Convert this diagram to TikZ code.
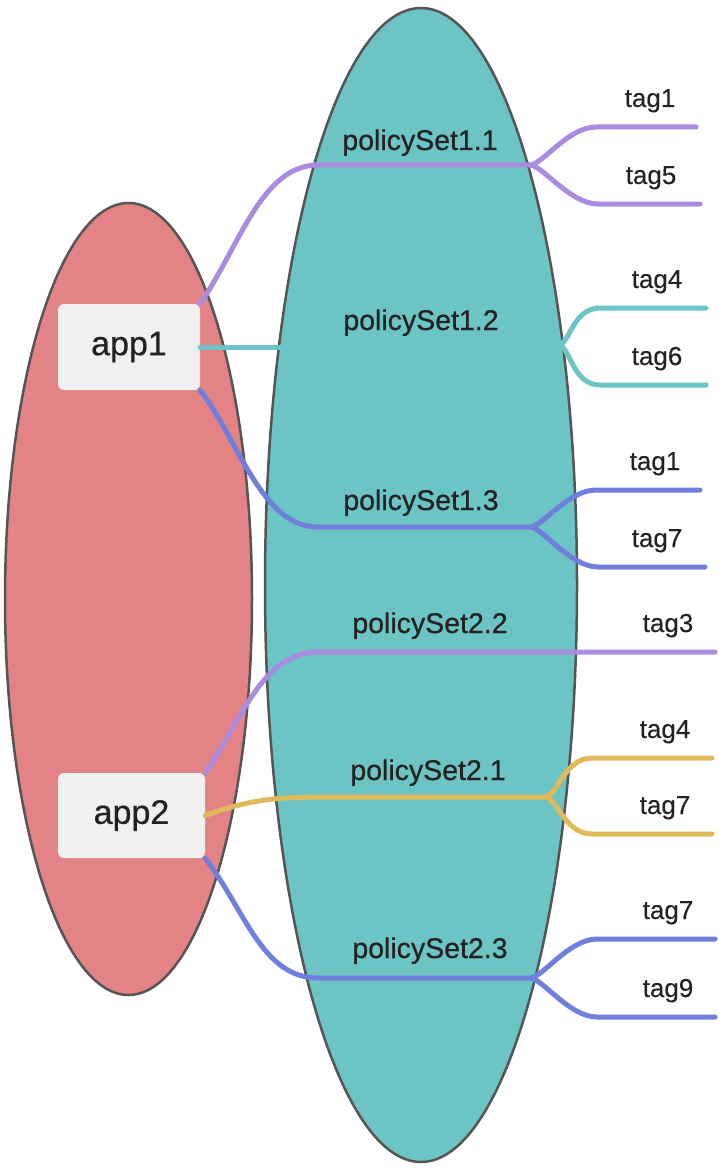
\documentclass[tikz,border=0pt]{standalone}
\usepackage{fontspec}
\setmainfont{Liberation Sans}
\definecolor{appred}{HTML}{E38385}
\definecolor{setteal}{HTML}{6CC4C4}
\definecolor{rimgray}{HTML}{555555}
\definecolor{boxgray}{HTML}{F0F0F0}
\definecolor{textdark}{HTML}{222222}
\definecolor{linkpurple}{HTML}{A98BE0}
\definecolor{linkteal}{HTML}{6CC4C4}
\definecolor{linkblue}{HTML}{6F7FDB}
\definecolor{linkyellow}{HTML}{E0B95A}
\tikzset{
	link/.style={line width=5pt, line cap=round},
	appbox/.style={fill=boxgray, rounded corners=6pt, minimum width=142pt, minimum height=86pt,
		font=\fontsize{34}{40}\selectfont\addfontfeature{FakeBold=0.6}, text=textdark},
	settext/.style={font=\fontsize{28.5}{34}\selectfont\addfontfeature{FakeBold=0.6}, text=textdark, anchor=base},
	tagtext/.style={font=\fontsize{26}{31}\selectfont\addfontfeature{FakeBold=0.3}, text=textdark, anchor=base}
}
\newcommand{\leaf}[6] % junction, leaf name, x start, x end, y, colour
{
	% leaf line end points
	\coordinate (#2a) at (#3,#5);
	\coordinate (#2b) at (#4,#5);
	% branch from the junction
	\draw[link, #6] (#1) .. controls +(12,0) and +(-28,0) .. (#2a) -- (#2b);
}

\begin{document}
\begin{tikzpicture}[x=1pt, y=-1pt]
	\useasboundingbox (0,0) rectangle (718,1169);
	% the two sets
	\draw[line width=2.5pt, rimgray, fill=appred] (128.5,599) ellipse (123.5 and 396);
	\draw[line width=2.5pt, rimgray, fill=setteal] (421,585) ellipse (156 and 577);
	
	% apps
	\node[appbox] (app1) at (129,347) {app1};
	\node[appbox, minimum width=147pt, minimum height=85pt] (app2) at (131.5,815.5) {app2};
	
	% junctions
	\coordinate (j11) at (530,165);
	\coordinate (j12) at (558,345);
	\coordinate (j13) at (530,527);
	\coordinate (j21) at (545,797);
	\coordinate (j23) at (530,978);
	\coordinate (e22) at (715,652);
	\coordinate (e12) at (285,347);
	
	% app1 links
	\draw[link, linkpurple] (app1.north east) .. controls (240,245) and (262,165) .. (318,165) -- (j11);
	\draw[link, linkteal] (app1.east) -- (e12);
	\draw[link, linkblue] (app1.south east) .. controls (240,443) and (262,527) .. (318,527) -- (j13);
	
	% app2 links
	\draw[link, linkpurple] (app2.north east) .. controls (245,715) and (262,652) .. (320,652) -- (e22);
	\draw[link, linkyellow] (app2.east) .. controls (250,800) and (270,797) .. (330,797) -- (j21);
	\draw[link, linkblue] (app2.south east) .. controls (245,910) and (262,978) .. (318,978) -- (j23);
	
	% leaves
	\leaf{j11}{l1}{596}{696}{127}{linkpurple};
	\leaf{j11}{l2}{598}{700}{204}{linkpurple};
	\leaf{j12}{l3}{600}{706}{308}{linkteal};
	\leaf{j12}{l4}{600}{706}{385}{linkteal};
	\leaf{j13}{l5}{596}{700}{490}{linkblue};
	\leaf{j13}{l6}{598}{705}{567}{linkblue};
	\leaf{j21}{l7}{592}{712}{758}{linkyellow};
	\leaf{j21}{l8}{592}{712}{834}{linkyellow};
	\leaf{j23}{l9}{597}{715}{939}{linkblue};
	\leaf{j23}{l10}{597}{715}{1017}{linkblue};
	
	% set labels
	\node[settext] (s11) at (420,150) {policySet1.1};
	\node[settext] (s12) at (421,330) {policySet1.2};
	\node[settext] (s13) at (421,510) {policySet1.3};
	\node[settext] (s22) at (430,633) {policySet2.2};
	\node[settext] (s21) at (428,780) {policySet2.1};
	\node[settext] (s23) at (430,958) {policySet2.3};
	
	% tag labels
	\node[tagtext] (t1) at (650,107) {tag1};
	\node[tagtext] (t2) at (651,184) {tag5};
	\node[tagtext] (t3) at (657,288) {tag4};
	\node[tagtext] (t4) at (657,365) {tag6};
	\node[tagtext] (t5) at (655,470) {tag1};
	\node[tagtext] (t6) at (657,547) {tag7};
	\node[tagtext] (t7) at (668,632) {tag3};
	\node[tagtext] (t8) at (665,738) {tag4};
	\node[tagtext] (t9) at (665,814) {tag7};
	\node[tagtext] (t10) at (668,919) {tag7};
	\node[tagtext] (t11) at (668,997) {tag9};
\end{tikzpicture}
\end{document}
